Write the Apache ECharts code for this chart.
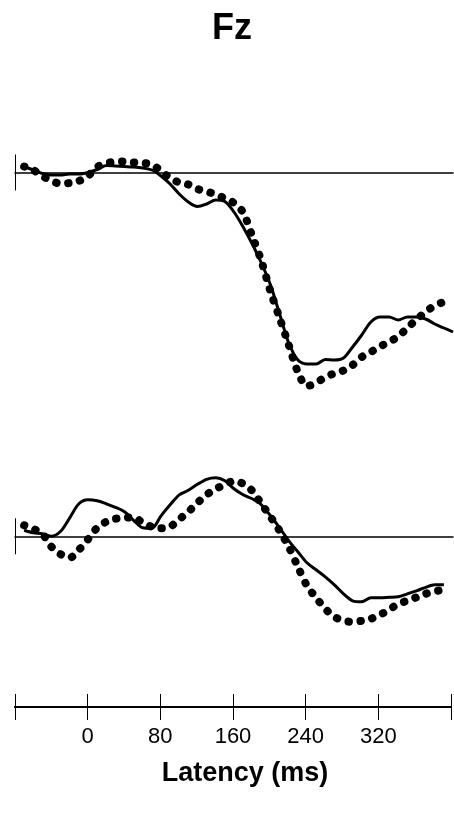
<!DOCTYPE html>
<html>
<head>
<meta charset="utf-8">
<title>Fz</title>
<script src="https://cdn.jsdelivr.net/npm/echarts@6/dist/echarts.min.js"></script>
<style>
  html, body { margin: 0; padding: 0; background: #fff; }
  #fz { width: 454px; height: 813px; }
</style>
</head>
<body>
<div id="fz"></div>
<script>
// latency in ms, one sample every 10 ms
var latency = [-70, -60, -50, -40, -30, -20, -10, 0, 10, 20, 30, 40, 50, 60, 70, 80, 90, 100,
  110, 120, 130, 140, 150, 160, 170, 180, 190, 200, 210, 220, 230, 240, 250, 260, 270, 280,
  290, 300, 310, 320, 330, 340, 350, 360, 370, 380, 390, 400];

// upper pair of waveforms (arbitrary amplitude units, up = positive)
var topSolid = [0.6, 0.25, -0.1, -0.25, -0.25, -0.15, -0.15, 0.0, 0.3, 0.7, 0.65, 0.6, 0.55, 0.45,
  0.25, -0.35, -1.15, -2.15, -2.95, -3.4, -3.15, -2.75, -2.9, -3.95, -5.45, -7.15, -9.05, -11.25,
  -14.15, -17.05, -18.75, -19.15, -19.15, -18.7, -18.75, -18.55, -17.45, -16.25, -14.95, -14.45,
  -14.45, -14.75, -14.45, -14.45, -14.65, -15.15, -15.55, -15.95];
var topDotted = [0.6, 0.25, -0.35, -0.85, -1.1, -1.05, -0.85, -0.35, 0.55, 0.9, 1.1, 1.1, 1.0, 0.95,
  0.8, 0.15, -0.55, -1.0, -1.2, -1.65, -1.9, -2.2, -2.6, -3.05, -4.0, -6.35, -8.85, -11.9, -14.55,
  -17.25, -19.95, -21.35, -21.05, -20.45, -20.1, -19.8, -19.25, -18.45, -17.95, -17.4, -16.95,
  -16.4, -15.55, -14.7, -13.95, -13.3, -12.95];

// lower pair
var bottomSolid = [0.6, 0.35, 0.25, 0.0, 0.5, 1.85, 3.25, 3.65, 3.55, 3.25, 2.9, 2.45, 1.6, 0.85,
  0.8, 2.05, 3.15, 4.15, 4.6, 5.2, 5.7, 5.85, 5.55, 4.75, 4.15, 3.75, 3.15, 2.05, 0.85, -0.45,
  -1.55, -2.65, -3.35, -4.05, -4.85, -5.75, -6.45, -6.55, -6.15, -6.15, -6.1, -6.05, -5.75,
  -5.45, -5.1, -4.85, -4.85];
var bottomDotted = [1.1, 0.75, 0.25, -1.05, -1.8, -2.15, -1.35, -0.3, 0.85, 1.45, 1.75, 1.85, 1.9,
  1.35, 0.95, 0.8, 0.95, 1.7, 2.45, 3.35, 4.15, 4.75, 5.15, 5.55, 5.25, 4.55, 3.25, 1.95, 0.55,
  -1.05, -3.05, -4.95, -6.15, -7.25, -8.05, -8.45, -8.55, -8.45, -8.25, -7.85, -7.35, -6.75,
  -6.45, -6.1, -5.75, -5.5, -5.35];

// time axis ticks, only the inner ones get a label
var tickMin = -80, tickMax = 400, tickStep = 80;
var tickLabels = ['0', '80', '160', '240', '320'];

var FONT = "'Liberation Sans', Arial, Helvetica, sans-serif";

function pairs(values) {
  return values.map(function (v, i) { return [latency[i], v]; });
}

// short vertical mark at the start of each baseline
function startMark(h) {
  return {
    silent: true,
    symbol: 'none',
    label: { show: false },
    lineStyle: { color: '#000', width: 1, type: 'solid' },
    data: [[{ coord: [tickMin, h] }, { coord: [tickMin, -h] }]]
  };
}

var solidStyle = { color: '#000', width: 3 };
var dotStyle = { color: '#000', width: 8, type: [0.5, 11.5], cap: 'round' };

function baseX(idx) {
  return {
    type: 'value', gridIndex: idx, min: tickMin, max: tickMax, interval: tickStep,
    axisLine: { show: true, onZero: true, lineStyle: { color: '#000', width: 1.5 } },
    axisTick: { show: false }, axisLabel: { show: false }, splitLine: { show: false }
  };
}
function hiddenY(idx, min, max) {
  return {
    type: 'value', gridIndex: idx, min: min, max: max,
    axisLine: { show: false }, axisTick: { show: false },
    axisLabel: { show: false }, splitLine: { show: false }
  };
}
function tickX(inside) {
  return {
    type: 'value', gridIndex: 2, min: tickMin, max: tickMax, interval: tickStep,
    position: 'bottom',
    axisLine: { show: true, lineStyle: { color: '#000', width: 2 } },
    axisTick: { show: true, inside: inside, length: 13, lineStyle: { color: '#000', width: 1 } },
    axisLabel: {
      show: !inside, margin: 19, color: '#000', fontSize: 22, fontFamily: FONT,
      formatter: function (v) {
        var s = String(v);
        return tickLabels.indexOf(s) >= 0 ? s : '';
      }
    },
    splitLine: { show: false }
  };
}

var option = {
  animation: false,
  backgroundColor: '#fff',
  title: [
    {
      text: 'Fz', left: 227, top: 6, textAlign: 'center',
      textStyle: { fontSize: 36, fontWeight: 'bold', color: '#000', fontFamily: FONT }
    },
    {
      text: 'Latency (ms)', left: 240, top: 755, textAlign: 'center',
      textStyle: { fontSize: 27, fontWeight: 'bold', color: '#000', fontFamily: FONT }
    }
  ],
  grid: [
    { left: 15, right: 1, top: 137.5, height: 285 },
    { left: 15, right: 1, top: 466.3, height: 170 },
    { left: 15, right: 1, top: 697, height: 10 }
  ],
  xAxis: [baseX(0), baseX(1), tickX(true), tickX(false)],
  yAxis: [hiddenY(0, -25, 3.5), hiddenY(1, -10, 7), hiddenY(2, 0, 1)],
  series: [
    {
      type: 'line', xAxisIndex: 0, yAxisIndex: 0, data: pairs(topSolid),
      showSymbol: false, smooth: 0.3, lineStyle: solidStyle, markLine: startMark(1.8)
    },
    {
      type: 'line', xAxisIndex: 0, yAxisIndex: 0, data: pairs(topDotted),
      showSymbol: false, smooth: 0.3, lineStyle: dotStyle
    },
    {
      type: 'line', xAxisIndex: 1, yAxisIndex: 1, data: pairs(bottomSolid),
      showSymbol: false, smooth: 0.3, lineStyle: solidStyle, markLine: startMark(1.8)
    },
    {
      type: 'line', xAxisIndex: 1, yAxisIndex: 1, data: pairs(bottomDotted),
      showSymbol: false, smooth: 0.3, lineStyle: dotStyle
    }
  ]
};

var chart = echarts.init(document.getElementById('fz'));
chart.setOption(option);
</script>
</body>
</html>
